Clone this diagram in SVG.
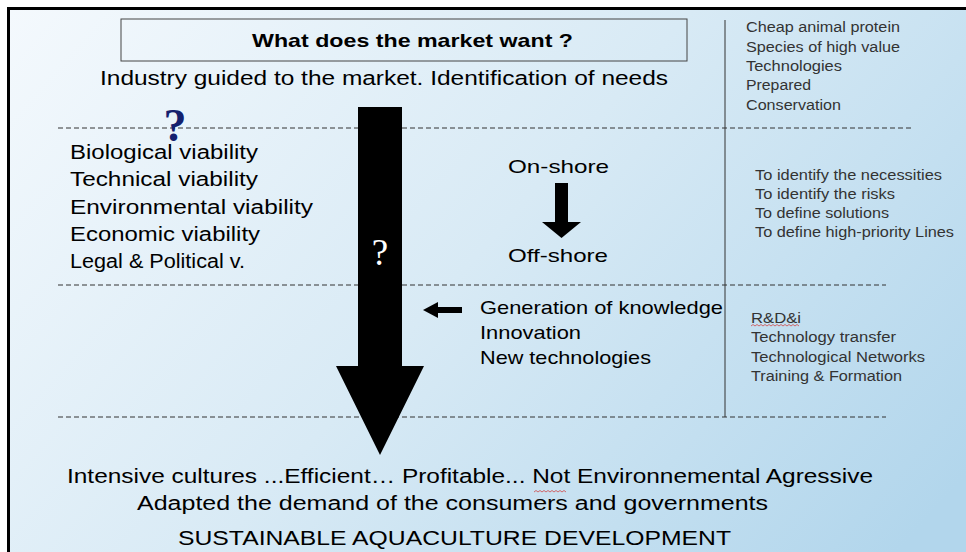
<svg xmlns="http://www.w3.org/2000/svg" width="966" height="552" viewBox="0 0 966 552">
  <defs>
    <linearGradient id="bg" gradientUnits="userSpaceOnUse" x1="10" y1="10" x2="778" y2="688">
      <stop offset="0" stop-color="#f4f9fd"/>
      <stop offset="0.5" stop-color="#d8eaf5"/>
      <stop offset="1" stop-color="#b2d6ec"/>
    </linearGradient>
    <style>
      .t { font-family: "Liberation Sans", Arial, sans-serif; fill: #000; }
      .big { font-size: 20px; }
      .mid { font-size: 19px; }
      .small { font-size: 14px; fill: #333; }
      .title { font-size: 19px; font-weight: bold; }
      .dash { stroke: #333; stroke-width: 1; stroke-dasharray: 5 3; fill: none; }
      .squig { stroke: #d04848; stroke-width: 0.8; fill: none; }
    </style>
  </defs>

  <!-- page -->
  <rect x="0" y="0" width="966" height="552" fill="#fff"/>
  <rect x="10" y="10" width="956" height="542" fill="url(#bg)"/>
  <path d="M8.5 552 V8.5 H966" fill="none" stroke="#000" stroke-width="3"/>

  <!-- section separators -->
  <g id="separators">
    <line class="dash" x1="58" y1="128" x2="911" y2="128"/>
    <line class="dash" x1="58" y1="285" x2="886" y2="285"/>
    <line class="dash" x1="58" y1="417" x2="886" y2="417"/>
    <line x1="725" y1="20" x2="725" y2="417" stroke="#333" stroke-width="1"/>
  </g>

  <!-- header -->
  <g id="header">
    <rect x="121" y="19" width="566" height="42" fill="none" stroke="#444" stroke-width="1"/>
    <text class="t title" x="252" y="47" textLength="321" lengthAdjust="spacingAndGlyphs">What does the market want ?</text>
    <text class="t big" x="100" y="85" textLength="568" lengthAdjust="spacingAndGlyphs">Industry guided to the market. Identification of needs</text>
  </g>

  <!-- market demands -->
  <g id="demands">
    <text class="t small" x="746" y="32" textLength="154" lengthAdjust="spacingAndGlyphs">Cheap animal protein</text>
    <text class="t small" x="746" y="52" textLength="154" lengthAdjust="spacingAndGlyphs">Species of high value</text>
    <text class="t small" x="746" y="71" textLength="96" lengthAdjust="spacingAndGlyphs">Technologies</text>
    <text class="t small" x="746" y="90" textLength="65" lengthAdjust="spacingAndGlyphs">Prepared</text>
    <text class="t small" x="746" y="110" textLength="95" lengthAdjust="spacingAndGlyphs">Conservation</text>
  </g>

  <!-- viabilities -->
  <g id="viability">
    <text class="t big" x="70" y="159" textLength="188" lengthAdjust="spacingAndGlyphs">Biological viability</text>
    <text class="t big" x="70" y="186" textLength="188" lengthAdjust="spacingAndGlyphs">Technical viability</text>
    <text class="t big" x="70" y="214" textLength="243" lengthAdjust="spacingAndGlyphs">Environmental viability</text>
    <text class="t big" x="70" y="241" textLength="190" lengthAdjust="spacingAndGlyphs">Economic viability</text>
    <text class="t big" x="70" y="268" textLength="175" lengthAdjust="spacingAndGlyphs">Legal &amp; Political v.</text>
  </g>

  <!-- blue question mark -->
  <g id="question-blue">
    <text x="175" y="141" text-anchor="middle" font-family="Liberation Serif, Times New Roman, serif" font-weight="bold" font-size="46" fill="#14206e">?</text>
  </g>

  <!-- on-shore to off-shore -->
  <g id="shore">
    <text class="t mid" x="508" y="173" textLength="101" lengthAdjust="spacingAndGlyphs">On-shore</text>
    <polygon points="555,183 568,183 568,222 581,222 561.5,238 542,222 555,222" fill="#000"/>
    <text class="t mid" x="508" y="262" textLength="100" lengthAdjust="spacingAndGlyphs">Off-shore</text>
  </g>

  <!-- actions -->
  <g id="actions">
    <text class="t small" x="755" y="180" textLength="187" lengthAdjust="spacingAndGlyphs">To identify the necessities</text>
    <text class="t small" x="755" y="199" textLength="140" lengthAdjust="spacingAndGlyphs">To identify the risks</text>
    <text class="t small" x="755" y="218" textLength="134" lengthAdjust="spacingAndGlyphs">To define solutions</text>
    <text class="t small" x="755" y="237" textLength="199" lengthAdjust="spacingAndGlyphs">To define high-priority Lines</text>
  </g>

  <!-- knowledge -->
  <g id="knowledge">
    <polygon points="423,310 438,302 438,307 462,307 462,313 438,313 438,318" fill="#000"/>
    <text class="t mid" x="480" y="314" textLength="243" lengthAdjust="spacingAndGlyphs">Generation of knowledge</text>
    <text class="t mid" x="480" y="339" textLength="101" lengthAdjust="spacingAndGlyphs">Innovation</text>
    <text class="t mid" x="480" y="364" textLength="171" lengthAdjust="spacingAndGlyphs">New technologies</text>
  </g>

  <!-- research and transfer -->
  <g id="research">
    <text class="t small" x="751" y="323" textLength="50" lengthAdjust="spacingAndGlyphs">R&amp;D&amp;i</text>
    <polyline class="squig" points="751,326 753,324.5 755,326 757,324.5 759,326 761,324.5 763,326 765,324.5 767,326 769,324.5 771,326 773,324.5 775,326 777,324.5 779,326 781,324.5 783,326 785,324.5 787,326 789,324.5 791,326 793,324.5 795,326 797,324.5 799,326"/>
    <text class="t small" x="751" y="342" textLength="145" lengthAdjust="spacingAndGlyphs">Technology transfer</text>
    <text class="t small" x="751" y="362" textLength="174" lengthAdjust="spacingAndGlyphs">Technological Networks</text>
    <text class="t small" x="751" y="381" textLength="151" lengthAdjust="spacingAndGlyphs">Training &amp; Formation</text>
  </g>

  <!-- main flow arrow -->
  <g id="main-arrow">
    <polygon points="358,107 402,107 402,366 424,366 380,455 336,366 358,366" fill="#000"/>
    <text x="380" y="265" text-anchor="middle" font-family="Liberation Serif, Times New Roman, serif" font-size="37" fill="#fff">?</text>
  </g>

  <!-- outcome -->
  <g id="outcome">
    <text class="t big" x="67" y="483" textLength="806" lengthAdjust="spacingAndGlyphs">Intensive cultures ...Efficient… Profitable... Not Environnemental Agressive</text>
    <polyline class="squig" points="534,492 536,490.5 538,492 540,490.5 542,492 544,490.5 546,492 548,490.5 550,492 552,490.5 554,492 556,490.5 558,492 560,490.5 562,492 564,490.5 566,492"/>
    <text class="t big" x="137" y="510" textLength="631" lengthAdjust="spacingAndGlyphs">Adapted the demand of the consumers and governments</text>
    <text class="t big" x="178" y="545" textLength="553" lengthAdjust="spacingAndGlyphs">SUSTAINABLE AQUACULTURE DEVELOPMENT</text>
  </g>
</svg>
